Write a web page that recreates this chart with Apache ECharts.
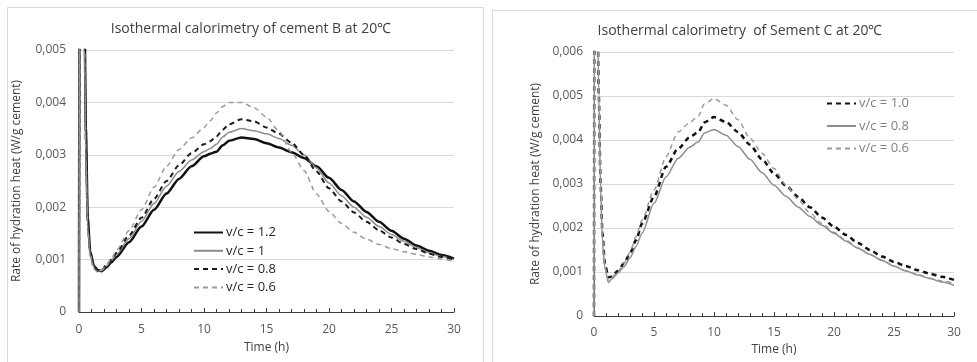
<!DOCTYPE html>
<html>
<head>
<meta charset="utf-8">
<script src="https://cdn.jsdelivr.net/npm/echarts@6/dist/echarts.min.js"></script>
<style>
html,body{margin:0;padding:0;background:#fff;}
#c{width:977px;height:362px;}
</style>
</head>
<body>
<div id="c"></div>
<script>
// ---- Cement B data ----
const timeB = [0, 0.08, 0.3, 0.45, 0.55, 0.7, 0.9, 1.2, 1.5, 1.8, 2.2, 2.6, 3, 4, 5, 6, 7, 8, 9, 10, 10.5, 11, 11.5, 12, 13, 14, 15, 16, 17, 18, 19, 20, 21, 22, 23, 24, 25, 26, 27, 28, 29, 30];
const b12 = [0, 0.012, 0.009, 0.0055, 0.0035, 0.0018, 0.00115, 0.00088, 0.0008, 0.00078, 0.00085, 0.00095, 0.00105, 0.00133, 0.00163, 0.00195, 0.00226, 0.00254, 0.00278, 0.00297, 0.00302, 0.00306, 0.00318, 0.00327, 0.00333, 0.0033, 0.00322, 0.00314, 0.00305, 0.00294, 0.00278, 0.00256, 0.00233, 0.00211, 0.00191, 0.00172, 0.00155, 0.0014, 0.00127, 0.00117, 0.00109, 0.00102];
const b10 = [0, 0.012, 0.009, 0.005, 0.003, 0.0016, 0.0011, 0.00085, 0.00078, 0.00079, 0.00088, 0.00099, 0.0011, 0.0014, 0.00173, 0.00207, 0.0024, 0.00268, 0.0029, 0.00306, 0.00312, 0.0032, 0.00334, 0.00343, 0.0035, 0.00346, 0.0034, 0.00331, 0.00318, 0.003, 0.00275, 0.00246, 0.00222, 0.002, 0.00181, 0.00163, 0.00148, 0.00135, 0.00123, 0.00113, 0.00106, 0.001];
const b08 = [0, 0.012, 0.009, 0.0052, 0.0032, 0.0017, 0.0011, 0.00084, 0.00078, 0.0008, 0.0009, 0.001, 0.00113, 0.00146, 0.0018, 0.00216, 0.0025, 0.0028, 0.00303, 0.0032, 0.00326, 0.00335, 0.00348, 0.00358, 0.00368, 0.00364, 0.00352, 0.0034, 0.00323, 0.003, 0.00268, 0.00236, 0.00211, 0.0019, 0.00172, 0.00156, 0.00142, 0.0013, 0.0012, 0.00111, 0.00105, 0.001];
const b06 = [0, 0.012, 0.009, 0.005, 0.003, 0.0016, 0.00105, 0.00082, 0.00076, 0.00079, 0.0009, 0.00102, 0.00118, 0.00155, 0.00195, 0.00238, 0.00278, 0.0031, 0.00332, 0.00352, 0.00365, 0.0038, 0.00392, 0.004, 0.004, 0.0039, 0.00372, 0.00345, 0.00305, 0.0027, 0.00225, 0.00192, 0.00169, 0.00152, 0.00139, 0.00129, 0.00121, 0.00115, 0.0011, 0.00105, 0.00101, 0.00097];
const namesB = ['v/c = 1.2', 'v/c = 1', 'v/c = 0.8', 'v/c = 0.6'];

// ---- Cement C data ----
const timeC = [0, 0.05, 0.25, 0.4, 0.55, 0.7, 0.9, 1.2, 1.5, 2, 2.5, 3, 3.5, 4, 5, 6, 7, 8, 8.7, 9.2, 10, 11, 12, 13, 14, 15, 16, 17, 18, 19, 20, 21, 22, 23, 24, 25, 26, 27, 28, 29, 30];
const c10 = [0, 0.012, 0.008, 0.005, 0.003, 0.0019, 0.0012, 0.00088, 0.0009, 0.00103, 0.0012, 0.00142, 0.00172, 0.0021, 0.00271, 0.00339, 0.0038, 0.00407, 0.00418, 0.0044, 0.00452, 0.00441, 0.00418, 0.00389, 0.00356, 0.00324, 0.00296, 0.00271, 0.00247, 0.00224, 0.00203, 0.00184, 0.00166, 0.0015, 0.00135, 0.00123, 0.00113, 0.00104, 0.00096, 0.00089, 0.00082];
const c08 = [0, 0.012, 0.008, 0.005, 0.0029, 0.0017, 0.0011, 0.00076, 0.00085, 0.00098, 0.00112, 0.00132, 0.00158, 0.00188, 0.00256, 0.00316, 0.00358, 0.00384, 0.00396, 0.00416, 0.00424, 0.00411, 0.00385, 0.00356, 0.00326, 0.00297, 0.00272, 0.00248, 0.00226, 0.00206, 0.00188, 0.0017, 0.00154, 0.0014, 0.00126, 0.00113, 0.00102, 0.00093, 0.00085, 0.00077, 0.0007];
const c06 = [0, 0.012, 0.008, 0.005, 0.003, 0.0018, 0.0011, 0.0008, 0.00088, 0.00102, 0.0012, 0.00145, 0.0018, 0.00218, 0.00286, 0.00362, 0.00418, 0.0044, 0.00455, 0.00482, 0.00494, 0.00479, 0.00446, 0.00404, 0.0037, 0.00335, 0.00298, 0.00265, 0.00234, 0.0021, 0.0019, 0.00172, 0.00155, 0.0014, 0.00127, 0.00114, 0.00103, 0.00094, 0.00086, 0.0008, 0.00074];
const namesC = ['v/c = 1.0', 'v/c = 0.8', 'v/c = 0.6'];

const titleB = 'Isothermal calorimetry of cement B at 20℃';
const titleC = 'Isothermal calorimetry  of Sement C at 20℃';
const yName = 'Rate of hydration heat (W/g cement)';
const xName = 'Time (h)';

// series ids must be unique between the two panels; the legend shows the plain label
const PREFIX_C = 'C|';
function pairs(t, v) { return t.map((x, i) => [x, v[i]]); }
const FONT = 'Open Sans';
const fmtY = v => (Math.abs(v) < 1e-9 ? '0' : v.toFixed(3).replace('.', ','));

function xAxisCfg(gi, labelMargin, nameGap) {
  return {
    type: 'value', gridIndex: gi, min: 0, max: 30, interval: 5,
    axisLine: { show: true, lineStyle: { color: '#3a3a3a', width: 1 } },
    axisTick: { show: true, inside: true, length: 4, lineStyle: { color: '#3a3a3a' } },
    minorTick: { show: true, splitNumber: 5, length: 3, lineStyle: { color: '#3a3a3a' } },
    splitLine: { show: false },
    axisLabel: { color: '#595959', fontFamily: FONT, fontSize: 12, margin: labelMargin },
    name: xName, nameLocation: 'middle', nameGap: nameGap,
    nameTextStyle: { color: '#404040', fontFamily: FONT, fontSize: 12 }
  };
}
function yAxisCfg(gi, max, labelMargin, nameGap) {
  return {
    type: 'value', gridIndex: gi, min: 0, max: max, interval: 0.001,
    axisLine: { show: true, lineStyle: { color: '#3a3a3a', width: 1 } },
    axisTick: { show: false },
    splitLine: { show: true, lineStyle: { color: '#d9d9d9', width: 1 } },
    axisLabel: { color: '#595959', fontFamily: FONT, fontSize: 12, margin: labelMargin, formatter: fmtY },
    name: yName, nameLocation: 'middle', nameGap: nameGap,
    nameTextStyle: { color: '#404040', fontFamily: FONT, fontSize: 12 }
  };
}
function line(name, gi, t, v, color, width, type) {
  return {
    name: name, type: 'line', xAxisIndex: gi, yAxisIndex: gi,
    data: pairs(t, v), symbol: 'none', showSymbol: false, smooth: 0.25, smoothMonotone: 'x',
    lineStyle: { color: color, width: width, type: type },
    itemStyle: { color: color }, clip: true, animation: false, z: 3
  };
}

const chart = echarts.init(document.getElementById('c'), null, { renderer: 'canvas' });
chart.setOption({
  backgroundColor: '#ffffff',
  animation: false,
  graphic: [
    { type: 'rect', shape: { x: 7.5, y: 7.5, width: 476, height: 370 }, style: { fill: 'none', stroke: '#d9d9d9', lineWidth: 1 }, z: -1 },
    { type: 'rect', shape: { x: 492.5, y: 10.5, width: 500, height: 370 }, style: { fill: 'none', stroke: '#d9d9d9', lineWidth: 1 }, z: -1 }
  ],
  title: [
    { text: titleB, left: 246, top: 17, textAlign: 'center',
      textStyle: { color: '#404040', fontFamily: FONT, fontSize: 14, fontWeight: 'normal' } },
    { text: titleC, left: 735, top: 19, textAlign: 'center',
      textStyle: { color: '#404040', fontFamily: FONT, fontSize: 14, fontWeight: 'normal' } }
  ],
  legend: [
    { data: namesB, orient: 'vertical', left: 188, top: 221, itemWidth: 29, itemHeight: 14, itemGap: 5.3,
      itemStyle: { opacity: 0 },
      textStyle: { color: '#262626', fontFamily: FONT, fontSize: 13, padding: [0, 0, 0, -2] }, selectedMode: false },
    { data: namesC.map(n => PREFIX_C + n), orient: 'vertical', left: 821, top: 92, itemWidth: 29, itemHeight: 14, itemGap: 9.5,
      itemStyle: { opacity: 0 },
      formatter: n => n.replace(PREFIX_C, ''),
      textStyle: { color: '#7f7f7f', fontFamily: FONT, fontSize: 13, padding: [0, 0, 0, -2] }, selectedMode: false }
  ],
  grid: [
    { left: 79, right: 977 - 454, top: 50, bottom: 362 - 312 },
    { left: 594, right: 977 - 954, top: 52, bottom: 362 - 316 }
  ],
  xAxis: [xAxisCfg(0, 12, 30), xAxisCfg(1, 11, 28)],
  yAxis: [yAxisCfg(0, 0.005, 13, 56), yAxisCfg(1, 0.006, 11, 52)],
  series: [
    line(namesB[0], 0, timeB, b12, '#111111', 2.5, 'solid'),
    line(namesB[1], 0, timeB, b10, '#8c8c8c', 1.5, 'solid'),
    line(namesB[2], 0, timeB, b08, '#1a1a1a', 2, [5, 4]),
    line(namesB[3], 0, timeB, b06, '#9a9a9a', 1.5, [5, 4]),
    line(PREFIX_C + namesC[0], 1, timeC, c10, '#111111', 2.5, [5, 4]),
    line(PREFIX_C + namesC[1], 1, timeC, c08, '#8c8c8c', 1.5, 'solid'),
    line(PREFIX_C + namesC[2], 1, timeC, c06, '#9a9a9a', 1.5, [5, 4])
  ]
});
</script>
</body>
</html>
